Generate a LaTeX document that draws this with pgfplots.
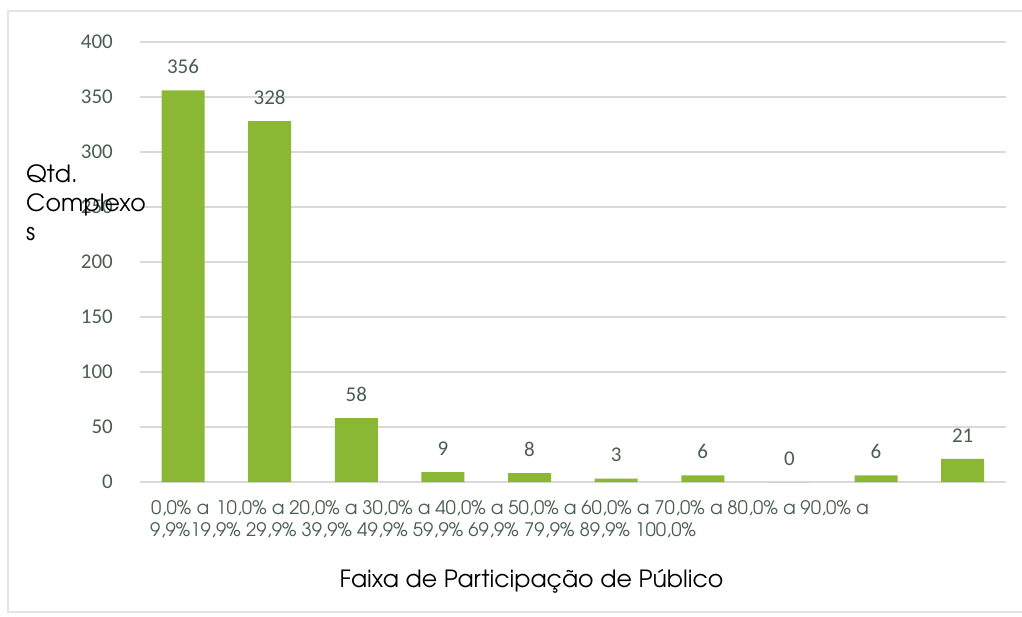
\documentclass[border=0pt]{standalone}
\usepackage{pgfplots}
\pgfplotsset{compat=1.18}
\usepackage{fontspec}
\setmainfont{Carlito}
\newfontfamily\adv{texgyreadventor-regular.otf}
\newfontfamily\carl{Carlito}
\definecolor{barg}{RGB}{139,184,52}
\definecolor{txtg}{RGB}{74,94,80}
\definecolor{gridc}{RGB}{217,217,217}
\definecolor{framec}{RGB}{228,228,228}
\begin{document}
\begin{tikzpicture}
\useasboundingbox (0pt,0pt) rectangle (1022pt,-616pt);
\fill[white] (0pt,0pt) rectangle (1022pt,-616pt);
\draw[framec, line width=1.5pt] (1022pt,-11pt) -- (8pt,-11pt) -- (8pt,-612pt) -- (1022pt,-612pt);
\begin{axis}[
  at={(139.7pt,-482pt)}, anchor=south west,
  scale only axis, width=866.3pt, height=440pt,
  xmin=-0.5, xmax=9.5, ymin=0, ymax=400,
  axis line style={draw=none},
  major tick length=0pt, minor tick length=0pt,
  ytick={0,50,...,400},
  ymajorgrids, grid style={gridc, line width=1.3pt},
  /pgf/number format/assume math mode=true,
  yticklabel style={font=\carl\fontsize{21}{21}\selectfont, text=txtg, anchor=east, inner sep=0pt, xshift=-26.7pt},
  xtick={-0.3695,0.381,1.224,2.067,2.910,3.753,4.596,5.439,6.282,7.125},
  xticklabels={{0,0\% a},{10,0\% a},{20,0\% a},{30,0\% a},{40,0\% a},{50,0\% a},{60,0\% a},{70,0\% a},{80,0\% a},{90,0\% a}},
  xticklabel style={font=\adv\fontsize{18.6}{18.6}\selectfont, text=txtg, anchor=base west, inner sep=0pt, yshift=-32pt},
  extra x ticks={-0.3811,0.0829,0.7248,1.3666,2.0084,2.6502,3.2920,3.9338,4.5756,5.2174},
  extra x tick labels={{9,9\%},{19,9\%},{29,9\%},{39,9\%},{49,9\%},{59,9\%},{69,9\%},{79,9\%},{89,9\%},{100,0\%}},
  extra x tick style={xticklabel style={yshift=-22pt}},
  xlabel={Faixa de Participação de Público},
  every axis x label/.style={at={(axis description cs:0.4523,0)}, anchor=base, yshift=-105pt, inner sep=0pt, font=\adv\fontsize{23.7}{29}\selectfont, text=black},
  ylabel={Qtd.\\Complexo\\s},
  every axis y label/.style={at={(axis description cs:-0.1312,0.7227)}, anchor=north west, rotate=0, inner sep=0pt, align=left, font=\adv\fontsize{23.7}{29}\selectfont, text=black},
  ybar, bar width=43pt,
  nodes near coords,
  nodes near coords align={vertical},
  every node near coord/.append style={font=\carl\fontsize{21}{21}\selectfont, text=txtg, inner sep=0pt, yshift=16.5pt},
]
\addplot[ybar, fill=barg, draw=none] coordinates {(0,356) (1,328) (2,58) (3,9) (4,8) (5,3) (6,6) (7,0) (8,6) (9,21)};
\end{axis}
\end{tikzpicture}
\end{document}
